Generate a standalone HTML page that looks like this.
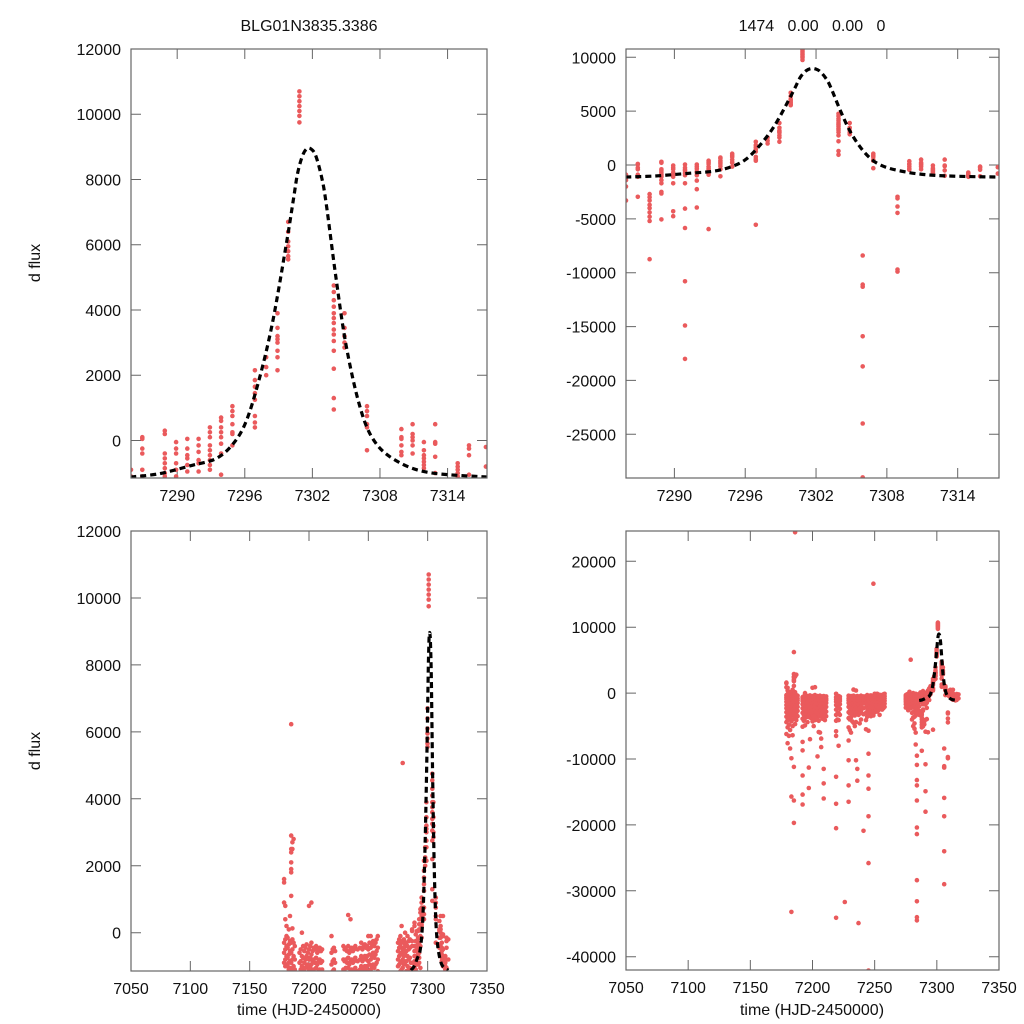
<!DOCTYPE html>
<html><head><meta charset="utf-8"><style>
html,body{margin:0;padding:0;background:#fff;overflow:hidden;width:1024px;height:1024px;}
svg{display:block;}
svg text{font-family:"Liberation Sans",sans-serif;fill:#111;}
</style></head><body>
<svg id="chart" width="1024" height="1024" viewBox="0 0 1024 1024" xmlns="http://www.w3.org/2000/svg">
<rect width="1024" height="1024" fill="#fff"/>
</svg>
<script>
// ---- observation nights (HJD-2450000) and flux values per night ----
const nightT = [7179,7180,7181,7182,7183,7184,7185,7186,7187,7188,
7192,7193,7194,7195,7196,7197,7198,7199,7200,7201,7202,7203,7204,7205,7206,7207,7208,7209,7210,7211,
7219,7220,7221,7222,7226,
7229,7230,7231,7232,7233,7234,7235,7236,7237,7238,7239,7241,
7243,7244,7245,7246,7247,7248,7249,7250,7251,7252,7253,7254,7255,7256,7257,7258,
7275,7276,7277,7278,7279,7280,7281,7282,7283,7284,7285,
7285.9,7286.9,7287.9,7288.9,7289.9,7290.9,7291.9,7292.9,7293.9,7294.9,7296.9,7297.9,7298.9,7299.85,7300.85,
7303.9,7304.85,7305.95,7306.85,7308.9,7309.9,7310.9,7311.9,7312.9,7314.9,7315.9,7317.4];
const nightV = [
[1600,1500,900,-300,-600,-900,-1300,-1800,-2300,-2900,-3600,-4400,-6200],
[800,400,-200,-500,-800,-1000,-1500,-2000,-2600,-3300,-4100,-5200,-7600],
[200,-100,-400,-700,-950,-1200,-1700,-2200,-2800,-3500,-4800,-6500],
[-150,-450,-750,-1000,-1400,-1900,-2500,-3100,-3900,-5600,-8400],
[100,-350,-650,-900,-1100,-1600,-2100,-2700,-3400,-4300,-9900,-15700,-33200],
[500,-250,-550,-850,-1050,-1500,-2000,-2600,-3200,-4000,-5000,-6400],
[6230,2900,2500,2400,2100,1900,1800,1100,-300,-600,-900,-1300,-1800,-2400,-3000,-11200,-16300,-19700],
[24400,2700,2500,130,-200,-500,-800,-1100,-1600,-2200,-2800,-3600,-4700],
[2800,-300,-700,-1000,-1400,-1900,-2500,-3200,-4100],
[-400,-800,-1100,-1500,-2100,-2700,-3500],
[-600,-900,-1200,-1700,-2300,-3000,-3900,-5100,-7400,-8700,-12500,-15400,-16900],
[-500,-850,-1100,-1500,-2000,-2600,-3300,-4200],
[0,-700,-1000,-1300,-1800,-2400,-3100,-3800,-4900],
[-400,-750,-1050,-1450,-1950,-2500,-3200],
[-550,-900,-1150,-1600,-2100,-2800,-3600,-4400],
[-450,-800,-1050,-1400,-2000,-2700,-3400,-11300,-14400],
[-350,-700,-1000,-1500,-2200,-2900,-3700,-7000],
[-600,-950,-1250,-1700,-2300,-3000,-3800],
[800,-500,-800,-1100,-1550,-2050,-2650,-3350,-4300],
[-400,-750,-1050,-1500,-2100,-2800,-3500,-5000],
[900,-300,-650,-950,-1350,-1900,-2500,-3300,-4100],
[-550,-850,-1150,-1650,-2200,-2900,-3700],
[-450,-800,-1100,-1600,-2300,-3100,-4000,-9600],
[-500,-900,-1200,-1700,-2400,-3200,-4200,-5900],
[-400,-750,-1050,-1450,-2000,-2700,-3500,-6000],
[-600,-950,-1250,-1800,-2500,-3300,-6900,-8200],
[-500,-850,-1150,-1600,-2200,-3000,-3900],
[-450,-800,-1100,-1550,-2150,-2850,-3700,-11500,-13700,-16000],
[-550,-900,-1200,-1700,-2400,-3200,-4100],
[-500,-850,-1100,-1500,-2100,-2800,-3500],
[-100,-600,-950,-1300,-1800,-2500,-3300,-4200,-5800,-6500,-12700,-16800,-20500,-34100],
[-500,-850,-1150,-1650,-2300,-3100,-4000],
[-450,-800,-1100,-1600,-2200,-3000,-4100,-8000],
[-550,-900,-1200,-1700,-2400,-3300],
[-31700],
[-400,-800,-1100,-1500,-2100,-2900,-3800,-5200,-7200,-10200,-14000,-16500],
[-500,-850,-1150,-1650,-2300,-3100,-4000,-5600],
[-450,-800,-1050,-1500,-2100,-2900,-3700,-6000],
[-550,-900,-1200,-1700,-2400,-3200,-4300],
[530,-400,-750,-1050,-1550,-2200,-3000,-4500],
[-600,-950,-1250,-1800,-2500,-3400,-5000],
[400,-500,-850,-1150,-1600,-2300,-3200,-4400,-10200],
[-450,-800,-1100,-1550,-2150,-2900,-11500,-13300],
[-550,-900,-1200,-1700,-2400,-3300,-34900],
[-500,-850,-1150,-1650,-2300,-3100,-4600],
[-400,-750,-1050,-1500,-2100,-2800,-4000],
[-500,-850,-1150,-1600,-2300,-3200,-20900],
[-450,-800,-1100,-1550,-2200,-3000,-4100,-5500],
[-300,-700,-1000,-1400,-2000,-2800,-3600],
[-500,-850,-1150,-1650,-2350,-3200,-9200,-12500,-14500,-18700,-25800,-42100,-5700],
[-400,-750,-1050,-1500,-2100,-2900],
[-350,-700,-1000,-1450,-2050,-2700,-3500],
[-450,-800,-1100,-1550,-2200,-2900],
[16600,-400,-700,-1000,-1400,-2000,-2700,-3400],
[-100,-500,-850,-1150,-1600,-2200,-2900],
[-300,-650,-950,-1300,-1800,-2500],
[-100,-450,-800,-1100,-1500,-2100,-2800],
[-350,-700,-1000,-1400,-1900,-2600],
[-250,-600,-950,-1300,-1800,-2400,-3300],
[-400,-750,-1050,-1450,-2000],
[-300,-650,-950,-1350,-1900,-2500],
[-200,-550,-900,-1250,-1700,-2300],
[-100,-450,-800,-1150,-1600,-2100],
[-300,-550,-800,-1000,-1300,-1700,-2200],
[-200,-450,-700,-950,-1200,-1600,-2100],
[-100,-400,-650,-900,-1150,-1500,-2000,-2600],
[200,-300,-600,-850,-1100,-1450,-1900],
[5070,-250,-500,-800,-1050,-1400,-1800,-2300],
[-200,-450,-700,-950,-1250,-1650,-2200,-3000,-4000],
[0,-350,-600,-900,-1200,-1600,-2100,-2900,-3700,-5000],
[-300,-550,-850,-1150,-1500,-2000,-2800,-3600,-4600,-5400],
[-100,-400,-700,-1000,-1350,-1800,-2500,-3400,-6000,-7800],
[-250,-500,-800,-1100,-1500,-2200,-3000,-9500,-10900,-13200,-14000,-16300,-20400,-21400,-28400,-31600,-34000,-34500],
[-200,-450,-750,-1050,-1400,-1900,-2600],
[-900,-1100,-1400,-2000,-3300],
[100,50,-250,-400,-900,-1100,-2950],
[-2700,-3000,-3300,-3700,-4000,-4400,-4800,-5200,-8750],
[300,200,-400,-550,-700,-850,-1000,-1100,-1400,-1700,-2500,-2650,-5050],
[-50,-250,-400,-700,-900,-1100,-1700,-4300,-4750],
[50,-250,-450,-550,-750,-950,-1700,-4050,-5850,-10800,-14900,-18000],
[50,-150,-350,-600,-700,-950,-1450,-2250,-3950],
[400,250,100,-150,-300,-450,-600,-750,-900,-5950],
[700,600,400,250,100,-100,-400,-1050],
[1050,900,750,500,250,200,-150],
[2150,1850,1650,1450,1250,750,550,400,-5550],
[2550,2250,2000],
[3900,3450,3200,3100,3000,2750,2550,2150],
[6700,6400,6100,5950,5800,5650,5550],
[10700,10550,10400,10250,10100,9950,9750],
[4750,4550,4300,4100,3900,3750,3600,3400,3250,3050,2750,2200,1300,950],
[3900,3450,3200,3000,2850],
[-8400,-11100,-11300,-15900,-18700,-24000,-29000],
[1050,900,750,500,400,-300],
[-2950,-3100,-3850,-4450,-9700,-9900],
[350,100,50,-150,-350,-450],
[500,200,100,0,-150,-400],
[-50,-300,-450,-550,-650,-750,-850],
[500,-50,-100,-500,-1000],
[-700,-800,-900,-1000,-1100],
[-150,-250,-450,-1050],
[-200,-800]];

// ---- microlensing model curve ----
const modelT = [7285.84,7288.37,7291.34,7293.42,7294.90,7296.09,7297.28,7298.46,7299.65,7300.30,7300.69,7301.15,7301.58,7302.00,7302.33,7302.80,7303.22,7304.11,7305.00,7306.19,7307.37,7309.16,7312.13,7317.47];
const modelF = [-1120,-1020,-760,-560,-130,560,1880,3610,5950,7350,8190,8750,8960,8900,8700,8100,7280,4940,2900,1070,50,-560,-970,-1120];

// ---- tick labels ----
const zoomXTicks = [7290,7296,7302,7308,7314];
const fullXTicks = [7050,7100,7150,7200,7250,7300,7350];
const tlYTicks = [0,2000,4000,6000,8000,10000,12000];
const trYTicks = [-25000,-20000,-15000,-10000,-5000,0,5000,10000];
const brYTicks = [-40000,-30000,-20000,-10000,0,10000,20000];

const NS = "http://www.w3.org/2000/svg";
const svg = document.getElementById('chart');
function mk(tag, attrs, parent){
  const e = document.createElementNS(NS, tag);
  for (const k in attrs) e.setAttribute(k, attrs[k]);
  (parent||svg).appendChild(e);
  return e;
}

const panels = [
  {id:'top-left', x0:131,x1:487,y0:49,y1:478, tmin:7285.9,tmax:7317.5, fmin:-1150,fmax:12000, xt:zoomXTicks, yt:tlYTicks},
  {id:'top-right', x0:626,x1:999,y0:49,y1:478, tmin:7285.9,tmax:7317.5, fmin:-29060,fmax:10770, xt:zoomXTicks, yt:trYTicks},
  {id:'bottom-left', x0:131,x1:487,y0:531,y1:971, tmin:7050,tmax:7350, fmin:-1144,fmax:12000, xt:fullXTicks, yt:tlYTicks},
  {id:'bottom-right', x0:626,x1:999,y0:531,y1:970, tmin:7050,tmax:7350, fmin:-42020,fmax:24600, xt:fullXTicks, yt:brYTicks}
];

function smoothPath(pts){
  let d = 'M' + pts[0][0].toFixed(1) + ',' + pts[0][1].toFixed(1);
  for (let i = 0; i < pts.length - 1; i++){
    const p0 = pts[Math.max(0,i-1)], p1 = pts[i], p2 = pts[i+1], p3 = pts[Math.min(pts.length-1,i+2)];
    const c1x = p1[0] + (p2[0]-p0[0])/6, c1y = p1[1] + (p2[1]-p0[1])/6;
    const c2x = p2[0] - (p3[0]-p1[0])/6, c2y = p2[1] - (p3[1]-p1[1])/6;
    d += `C${c1x.toFixed(1)},${c1y.toFixed(1)} ${c2x.toFixed(1)},${c2y.toFixed(1)} ${p2[0].toFixed(1)},${p2[1].toFixed(1)}`;
  }
  return d;
}

panels.forEach((p, i) => {
  const g = mk('g', {});
  
  
  const sx = t => p.x0 + (t - p.tmin) / (p.tmax - p.tmin) * (p.x1 - p.x0);
  const sy = f => p.y1 - (f - p.fmin) / (p.fmax - p.fmin) * (p.y1 - p.y0);
  const cp = mk('clipPath', {id:'clip'+i}, g);
  mk('rect', {x:p.x0, y:p.y0, width:p.x1-p.x0, height:p.y1-p.y0}, cp);

  p.xt.forEach(t => {
    const x = sx(t);
    const tk = mk('path', {d:`M${x},${p.y1}v-10M${x},${p.y0}v10`, stroke:'#666', 'stroke-width':1}, g);
    
    
    const lb = mk('text', {x:x, y:p.y1+23, 'text-anchor':'middle', 'font-size':16}, g);
    
    
    lb.textContent = t;
  });
  p.yt.forEach(f => {
    const y = sy(f);
    const tk = mk('path', {d:`M${p.x0},${y}h10M${p.x1},${y}h-10`, stroke:'#666', 'stroke-width':1}, g);
    
    
    const lb = mk('text', {x:p.x0-10, y:y+6, 'text-anchor':'end', 'font-size':16}, g);
    
    
    lb.textContent = f;
  });

  const dg = mk('g', {'clip-path':`url(#clip${i})`, fill:'#ea5a5c'}, g);
  
  
  nightT.forEach((t, k) => {
    nightV[k].forEach(v => {
      const c = mk('circle', {cx:sx(t).toFixed(1), cy:sy(v).toFixed(1), r:2.3}, dg);
      
      
    });
  });

  const pts = modelT.map((t, k) => [sx(t), sy(modelF[k])]);
  const ml = mk('path', {d:smoothPath(pts), fill:'none', stroke:'#000', 'stroke-width':3.2, 'stroke-dasharray':'6,4', 'clip-path':`url(#clip${i})`}, g);
  
  

  const fr = mk('rect', {x:p.x0, y:p.y0, width:p.x1-p.x0, height:p.y1-p.y0, fill:'none', stroke:'#666', 'stroke-width':1.2}, g);
  
  
});

function label(txt, x, y, name, rot){
  const t = mk('text', {x:x, y:y, 'text-anchor':'middle', 'font-size':16});
  if (rot) t.setAttribute('transform', `rotate(-90 ${x} ${y})`);
  
  
  t.textContent = txt;
}
label('BLG01N3835.3386', 309, 31, 'chart-title');
label('1474\u00a0\u00a0 0.00\u00a0\u00a0 0.00\u00a0\u00a0 0', 812, 31, 'fit-parameters-title');
label('d flux', 40, 263, 'y-axis-title-top', true);
label('d flux', 40, 751, 'y-axis-title-bottom', true);
label('time (HJD-2450000)', 309, 1015, 'x-axis-title-left');
label('time (HJD-2450000)', 812, 1015, 'x-axis-title-right');
</script>
</body></html>
